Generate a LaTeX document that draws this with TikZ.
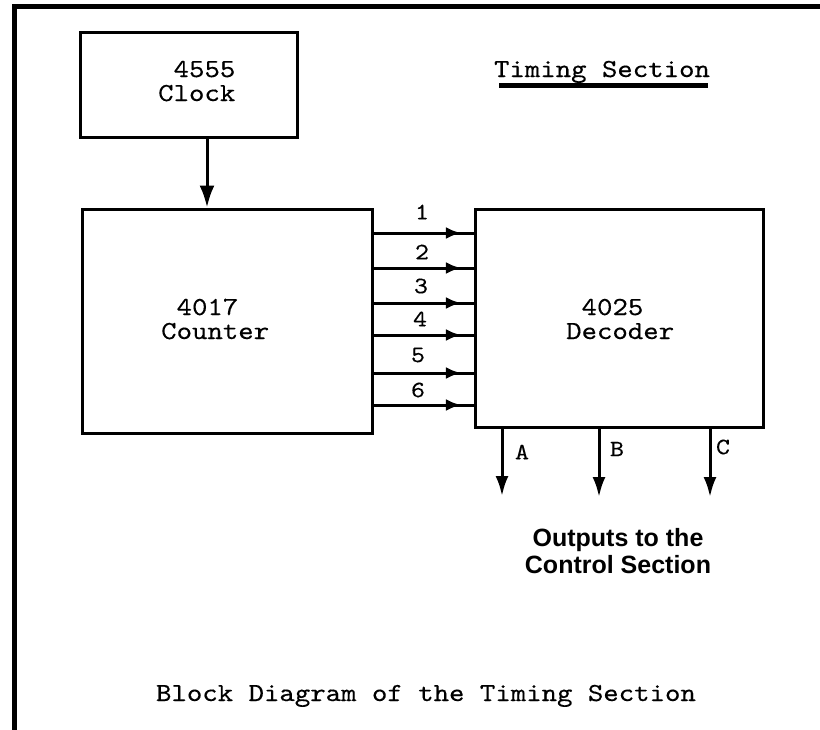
\documentclass[tikz,border=0pt]{standalone}
\usepackage{fontspec}
\setsansfont{Liberation Sans}
\newfontfamily\typew{lmmono10-regular.otf}[FakeStretch=1.13,FakeBold=0.3]
\usetikzlibrary{arrows.meta,decorations.markings}
\tikzset{
  box/.style={draw, line width=3pt, inner sep=0pt, fill=white},
  conn/.style={line width=3pt},
  tipdown/.style={-{Latex[length=20pt,width=13pt]}},
  mono/.style={font=\typew\fontsize{26}{24}\selectfont, inner sep=0pt},
  small/.style={font=\typew\fontsize{23.5}{23}\selectfont, inner sep=0pt},
  midtip/.style={postaction=decorate, decoration={markings,
      mark=at position 0.874 with {\arrow{Latex[length=15pt,width=12pt]}}}}
}
\begin{document}
\begin{tikzpicture}[x=1pt,y=-1pt]
\useasboundingbox (0,0) rectangle (820,729);
\fill[white] (0,0) rectangle (820,729);
% frame
\draw[line width=5pt] (14,735) -- (14,6) -- (826,6);

% blocks
\node[box, minimum width=217pt, minimum height=105pt] (clock) at (188.5,84.5) {};
\node[box, minimum width=290pt, minimum height=224pt] (counter) at (227,321) {};
\node[box, minimum width=288pt, minimum height=218pt] (decoder) at (619,318) {};

% block texts
\node[mono, anchor=base west] (clocktxt) at (158,77)
  {\begin{tabular}[t]{@{}l@{}}\phantom{0}4555\\Clock\end{tabular}};
\node[mono, anchor=base west] (countertxt) at (161,315)
  {\begin{tabular}[t]{@{}l@{}}\phantom{0}4017\\Counter\end{tabular}};
\node[mono, anchor=base west] (decodertxt) at (566,315)
  {\begin{tabular}[t]{@{}l@{}}\phantom{0}4025\\Decoder\end{tabular}};

% title
\node[mono, anchor=base] (title) at (602,77) {Timing Section};
\draw[line width=4.5pt] (499,85.5) -- (708,85.5);

% clock -> counter
\coordinate (ck) at (207,0);
\draw[conn, -{Latex[length=22pt,width=15pt]}] (clock.south -| ck) -- (counter.north -| ck);

% counter -> decoder lines
\foreach \i/\yy/\lx/\ly in {1/233/422/212, 2/268/422/252, 3/303/421/286,
                            4/335/420/319, 5/373/418/355, 6/405/418/390}{
  \coordinate (y\i) at (0,\yy);
  \draw[conn, midtip] (counter.east |- y\i) -- (decoder.west |- y\i);
  \node[small] (n\i) at (\lx,\ly) {\i};
}

% outputs
\coordinate (ea) at (502,496);
\coordinate (eb) at (599,497);
\coordinate (ec) at (710,497);
\draw[conn, tipdown] (decoder.south -| ea) -- (ea);
\draw[conn, tipdown] (decoder.south -| eb) -- (eb);
\draw[conn, tipdown] (decoder.south -| ec) -- (ec);
\node[small] (la) at (522,452) {A};
\node[small] (lb) at (617,449) {B};
\node[small] (lc) at (723,447) {C};

\node[font=\sffamily\bfseries\fontsize{25}{27}\selectfont, inner sep=0pt, anchor=base] (outtxt) at (618,546)
  {\begin{tabular}[t]{@{}c@{}}Outputs to the\\Control Section\end{tabular}};

% caption
\node[mono, anchor=base] (caption) at (426,701) {Block Diagram of the Timing Section};
\end{tikzpicture}
\end{document}
